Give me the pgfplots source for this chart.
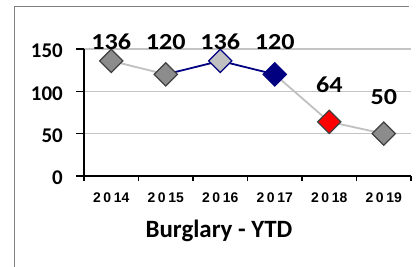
\documentclass[border=0pt]{standalone}
\usepackage{pgfplots}
\pgfplotsset{compat=1.18}
\usepackage{graphicx}
\usepackage{fontspec}
\setmainfont{Carlito}
\newfontfamily\arialf{Liberation Sans}
\definecolor{navyc}{HTML}{000080}
\definecolor{silverc}{HTML}{C0C0C0}
\definecolor{grayc}{HTML}{8C8C8C}
\definecolor{edgec}{HTML}{404040}
\definecolor{gridc}{HTML}{C4C4C4}
\definecolor{framec}{HTML}{808080}
\newcommand\yr[1]{2\kern2.6bp0\kern2.6bp#1}
\pgfplotstableread{
x y lab
0 158.3 136
1 158.3 120
2 158.3 136
3 158.3 120
4 108 64
5 93.3 50
}\labtab
\begin{document}
\begin{tikzpicture}[x=1bp,y=1bp]
\useasboundingbox (0,0) rectangle (419,-267);
\draw[color=framec, line width=1bp] (14,-267) -- (14,-6.5) -- (409,-6.5);
\begin{axis}[at={(84bp,-176bp)}, anchor=south west, scale only axis,
 width=327bp, height=127bp,
 xmin=-0.5, xmax=5.5, ymin=0, ymax=150, clip=false,
 axis x line*=bottom, axis y line*=left,
 axis line style={black, line width=1.2bp},
 xtick={0,...,5},
 xticklabels={\yr{14},\yr{15},\yr{16},\yr{17},\yr{18},\yr{19}},
 major x tick style={draw=none},
 minor xtick={-0.5,0.5,...,5.5},
 minor tick length=5bp,
 major tick length=8bp,
 every tick/.style={black, line width=1.2bp},
 tick align=outside,
 ytick={0,50,100,150},
 yticklabels={0,50,100,150},
 yticklabel style={font=\bfseries\fontsize{21}{21}\selectfont, inner sep=0pt, xshift=-13bp, yshift=-2bp},
 xticklabel style={font=\arialf\bfseries\fontsize{14}{14}\selectfont, inner sep=0pt, yshift=-9bp},
 ymajorgrids, major grid style={gridc, line width=1.5bp},
]
\addplot[silverc, line width=1.8bp, mark=none] coordinates {(0,136) (1,120)};
\addplot[navyc, line width=1.8bp, mark=none] coordinates {(1,120) (2,136) (3,120)};
\addplot[silverc, line width=1.8bp, mark=none] coordinates {(3,120) (4,64) (5,50)};
\addplot[only marks, mark=square*, mark size=8.2bp, mark options={rotate=45, fill=grayc, draw=edgec, line width=1.2bp}] coordinates {(0,136) (1,120) (5,50)};
\addplot[only marks, mark=square*, mark size=8.2bp, mark options={rotate=45, fill=silverc, draw=navyc, line width=1.2bp}] coordinates {(2,136)};
\addplot[only marks, mark=square*, mark size=8.2bp, mark options={rotate=45, fill=navyc, draw=navyc, line width=1.2bp}] coordinates {(3,120)};
\addplot[only marks, mark=square*, mark size=8.2bp, mark options={rotate=45, fill=red, draw=edgec, line width=1.2bp}] coordinates {(4,64)};
\addplot[draw=none, mark=none, nodes near coords={\scalebox{1.14}[1]{\pgfplotspointmeta}}, point meta=explicit symbolic,
 every node near coord/.append style={anchor=center, inner sep=0pt, font=\bfseries\fontsize{23}{23}\selectfont}]
 table[x=x, y=y, meta=lab] {\labtab};
\end{axis}
\node[font=\bfseries\fontsize{25}{25}\selectfont, anchor=base, inner sep=0pt] at (219,-237) {Burglary - YTD};
\end{tikzpicture}
\end{document}
